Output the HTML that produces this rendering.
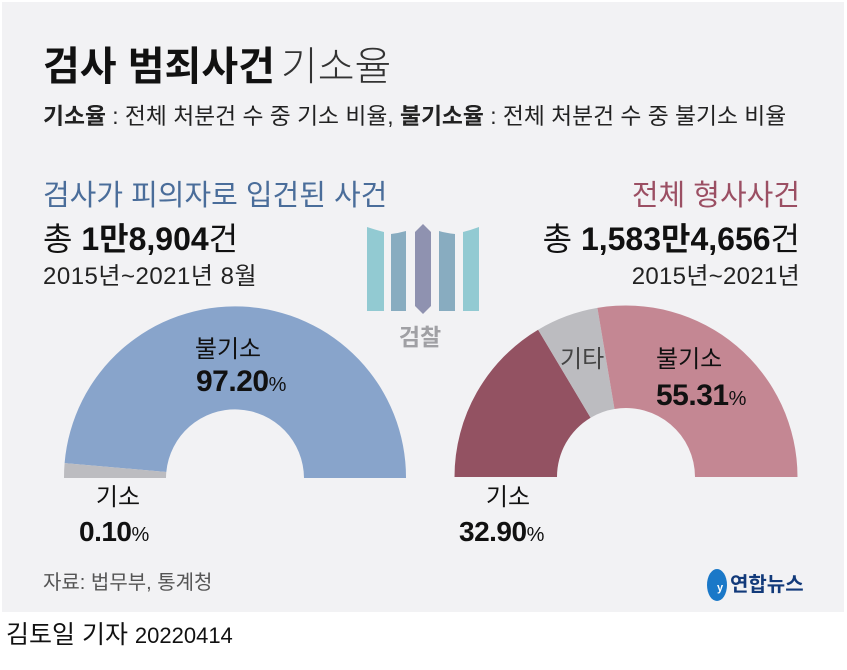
<!DOCTYPE html>
<html><head><meta charset="utf-8"><style>
body{margin:0;width:847px;height:665px;background:#fff;overflow:hidden;font-family:"Liberation Sans","Noto Sans CJK KR",sans-serif}
</style></head><body>
<svg width="847" height="665" xmlns="http://www.w3.org/2000/svg" style="font-family:'Liberation Sans','Noto Sans CJK KR',sans-serif">
<rect x="2" y="2" width="842" height="610" fill="#f2f2f4"/>
<text x="43" y="80" font-size="40" font-weight="bold" fill="#111">검사 범죄사건<tspan font-weight="300" fill="#333" dx="6">기소율</tspan></text>
<text x="43" y="124" font-size="22.8" fill="#222"><tspan font-weight="bold">기소율</tspan> : 전체 처분건 수 중 기소 비율, <tspan font-weight="bold">불기소율</tspan> : 전체 처분건 수 중 불기소 비율</text>
<text x="43" y="205" font-size="29" fill="#4a6d9a">검사가 피의자로 입건된 사건</text>
<text x="43" y="250" font-size="32" fill="#111">총 <tspan font-weight="bold">1만8,904</tspan>건</text>
<text x="43" y="284" font-size="24" fill="#222" letter-spacing="0.5">2015년~2021년 8월</text>
<text x="800" y="205" font-size="29" fill="#9b4f63" text-anchor="end">전체 형사사건</text>
<text x="800" y="250" font-size="32" fill="#111" text-anchor="end">총 <tspan font-weight="bold">1,583만4,656</tspan>건</text>
<text x="800" y="284" font-size="24" fill="#222" text-anchor="end" letter-spacing="0.3">2015년~2021년</text>
<!-- logo -->
<path d="M367,227 Q376,230 384,232 L384,311 L367,311Z" fill="#92cad2"/>
<path d="M391,234 Q399,233 406,231 L406,311 L391,311Z" fill="#88acc0"/>
<path d="M415,232 L423,224 L431,232 L431,306 L423,314 L415,306Z" fill="#8f92b0"/>
<path d="M439,231 Q446,233 455,234 L455,311 L439,311Z" fill="#88acc0"/>
<path d="M463,232 Q471,230 479,227 L479,311 L463,311Z" fill="#92cad2"/>
<text x="420" y="345" font-size="23" font-weight="bold" fill="#a0a0a4" text-anchor="middle">검찰</text>
<!-- left chart -->
<path d="M64.6,463.1 A171 171 0 0 1 406,478 L304,478 A69 69 0 0 0 166.3,472 Z" fill="#88a4cb"/>
<path d="M64,478 A171 171 0 0 1 64.6,463.1 L166.3,472 A69 69 0 0 0 166,478 Z" fill="#bcbcc0"/>
<text x="228" y="357" font-size="24" fill="#111" text-anchor="middle">불기소</text>
<text x="196" y="391" font-size="30" font-weight="bold" fill="#111" letter-spacing="-0.5">97.20<tspan font-size="20" font-weight="normal">%</tspan></text>
<text x="118" y="505" font-size="24" fill="#111" text-anchor="middle">기소</text>
<text x="79" y="541" font-size="28" font-weight="bold" fill="#111" letter-spacing="-0.5">0.10<tspan font-size="20" font-weight="normal">%</tspan></text>
<!-- right chart -->
<path d="M454.5,477 A171.5 171.5 0 0 1 538.1,329.7 L590.6,417.7 A69 69 0 0 0 557,477 Z" fill="#935262"/>
<path d="M538.1,329.7 A171.5 171.5 0 0 1 597.4,307.9 L614.5,409 A69 69 0 0 0 590.6,417.7 Z" fill="#bcbcc0"/>
<path d="M597.4,307.9 A171.5 171.5 0 0 1 797.5,477 L695,477 A69 69 0 0 0 614.5,409 Z" fill="#c48793"/>
<text x="560" y="367" font-size="24" fill="#444">기타</text>
<text x="656" y="367" font-size="24" fill="#111">불기소</text>
<text x="656" y="405" font-size="30" font-weight="bold" fill="#111" letter-spacing="-0.5">55.31<tspan font-size="20" font-weight="normal">%</tspan></text>
<text x="508" y="505" font-size="24" fill="#111" text-anchor="middle">기소</text>
<text x="459" y="541" font-size="28" font-weight="bold" fill="#111" letter-spacing="-0.5">32.90<tspan font-size="20" font-weight="normal">%</tspan></text>
<text x="43" y="589" font-size="20" fill="#555">자료: 법무부, 통계청</text>
<ellipse cx="717" cy="585" rx="10" ry="16" fill="#1a78c8"/>
<text x="720" y="591" font-size="11" fill="#fff" font-weight="bold" text-anchor="middle">y</text>
<text x="730" y="591" font-size="20" font-weight="bold" fill="#123a7a">연합뉴스</text>
<text x="6" y="643" font-size="25" fill="#111">김토일 기자 <tspan font-size="22">20220414</tspan></text>
</svg>
</body></html>
